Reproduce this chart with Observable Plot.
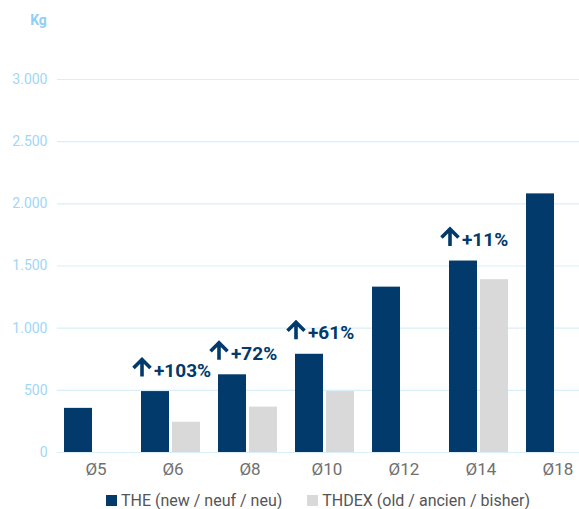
<!DOCTYPE html>
<html>
<head>
<meta charset="utf-8">
<script src="https://cdn.jsdelivr.net/npm/d3@7"></script>
<script src="https://cdn.jsdelivr.net/npm/@observablehq/plot@0.6"></script>
<style>
  html, body { margin: 0; padding: 0; background: #fff; font-family: Roboto, "Noto Sans", sans-serif; }
  #legend { display: flex; justify-content: center; align-items: center; gap: 25px; padding-left: 57px; font-size: 16px; color: #555; margin-top: 6px; }
  #legend span.sw { display: inline-block; width: 11px; height: 11px; margin-right: 4px; vertical-align: 0px; }
</style>
</head>
<body>
<div id="chart"></div>
<div id="legend"></div>
<script>
const groups = ["Ø5", "Ø6", "Ø8", "Ø10", "Ø12", "Ø14", "Ø18"];
const theValues = [355, 490, 625, 790, 1330, 1540, 2080];
const thdexValues = [null, 243, 365, 490, null, 1390, null];
const increases = [null, "+103%", "+72%", "+61%", null, "+11%", null];
const yTicks = [0, 500, 1000, 1500, 2000, 2500, 3000];
const seriesNames = ["THE (new / neuf / neu)", "THDEX (old / ancien / bisher)"];
const colors = ["#013a6b", "#d9d9d9"];

const theData = groups.map((g, i) => ({group: g, value: theValues[i]}));
const thdexData = groups.map((g, i) => ({group: g, value: thdexValues[i]})).filter(d => d.value != null);
const annData = groups.map((g, i) => ({group: g, value: theValues[i], label: increases[i]})).filter(d => d.label != null);

const fmt = d => d3.format(",")(d).replace(/,/g, ".");

const wideArrow = {
  draw(context, l) {
    const wing = l / 2;
    context.moveTo(0, 0);
    context.lineTo(0, -l);
    context.moveTo(-wing, wing - l);
    context.lineTo(0, -l);
    context.lineTo(wing, wing - l);
  }
};

const chart = Plot.plot({
  width: 579,
  height: 485,
  marginLeft: 57,
  marginRight: 0,
  marginTop: 79,
  marginBottom: 33,
  style: {fontFamily: "Roboto, sans-serif", background: "#fff"},
  x: {type: "band", domain: groups, range: [57, 596], padding: 0, label: null},
  y: {domain: [0, 3000], label: null},
  marks: [
    Plot.ruleY(yTicks, {stroke: "#d8effb", strokeWidth: 1.2}),
    Plot.axisY({ticks: yTicks, tickSize: 0, tickPadding: 10, tickFormat: fmt, fill: "#9fd7f5", fontSize: 14, label: null}),
    Plot.axisX({tickSize: 0, tickPadding: 10, fill: "#707070", fontSize: 17, label: null}),
    Plot.barY(theData, {x: "group", y: "value", fill: colors[0], insetLeft: 7, insetRight: 42}),
    Plot.barY(thdexData, {x: "group", y: "value", fill: colors[1], insetLeft: 38, insetRight: 11}),
    Plot.vector(annData, {x: "group", y: "value", length: 17, rotate: 0, anchor: "start", shape: wideArrow, dx: -31, dy: -15, stroke: colors[0], strokeWidth: 3.6, strokeLinejoin: "miter", strokeLinecap: "butt"}),
    Plot.text(annData, {x: "group", y: "value", text: "label", dx: -19, dy: -21, fill: colors[0], fontSize: 19, fontWeight: "bold", textAnchor: "start", lineAnchor: "middle"}),
    Plot.text(["Kg"], {frameAnchor: "top-left", dx: -19, dy: -59, text: d => d, fill: "#8fcff2", fontSize: 14, fontWeight: "bold", textAnchor: "middle", lineAnchor: "middle"})
  ]
});
document.getElementById("chart").appendChild(chart);

const legend = document.getElementById("legend");
seriesNames.forEach((name, i) => {
  const item = document.createElement("div");
  item.innerHTML = `<span class="sw" style="background:${colors[i]}"></span>${name}`;
  legend.appendChild(item);
});
</script>
</body>
</html>
